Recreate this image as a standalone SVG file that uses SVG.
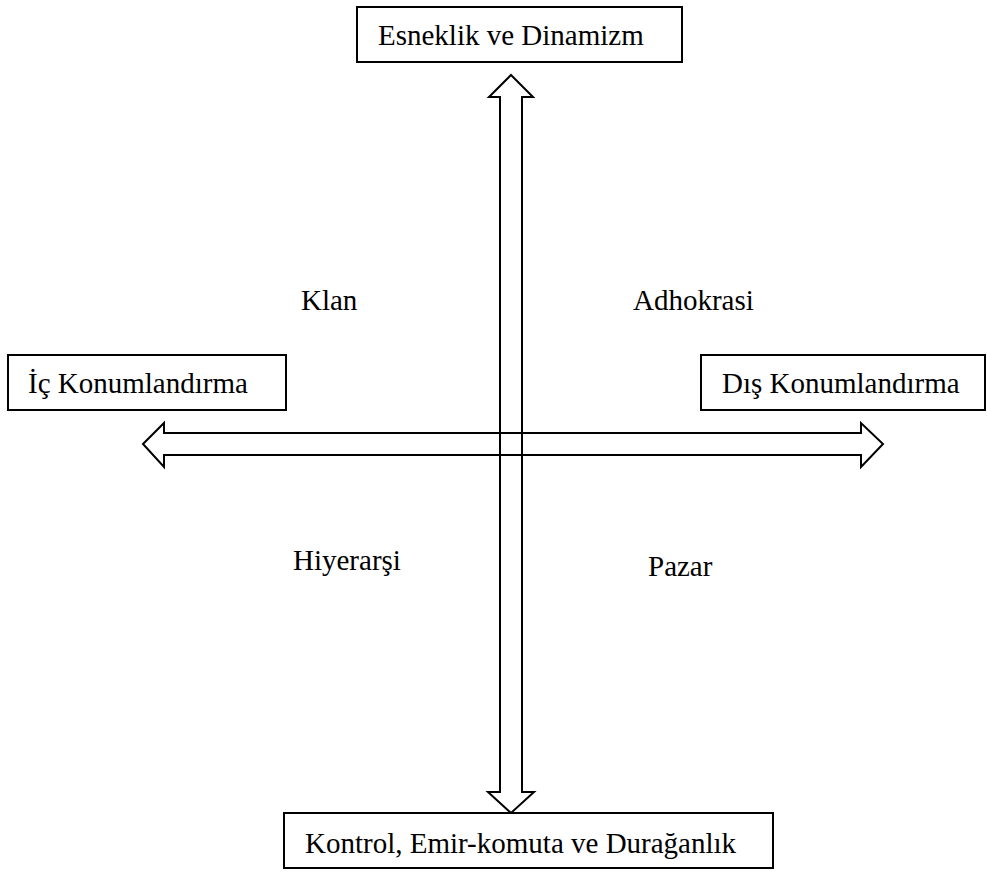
<svg xmlns="http://www.w3.org/2000/svg" width="987" height="872" viewBox="0 0 987 872">
  <style>
    .box { fill: #ffffff; stroke: #000000; stroke-width: 2; }
    .lbl { font-family: "Liberation Serif", "Times New Roman", serif; font-size: 29px; fill: #000000; }
    .arrow { fill: none; stroke: #000000; stroke-width: 2; stroke-linejoin: miter; }
  </style>
  <rect width="987" height="872" fill="#ffffff"/>

  <!-- double-headed axis arrows -->
  <g id="connectors">
    <path class="arrow" d="M511,75 L533,97 L522,97 L522,792 L534,792 L511,813 L488,792 L500,792 L500,97 L489,97 Z"/>
    <path class="arrow" d="M143,444 L164,423 L164,433 L861,433 L861,423 L883,444 L861,467 L861,455 L164,455 L164,467 Z"/>
  </g>

  <g id="node-top">
    <rect class="box" x="357" y="7" width="325" height="55"/>
    <text class="lbl" x="378" y="45">Esneklik ve Dinamizm</text>
  </g>
  <g id="node-left">
    <rect class="box" x="8" y="355" width="278" height="55"/>
    <text class="lbl" x="28" y="393">İç Konumlandırma</text>
  </g>
  <g id="node-right">
    <rect class="box" x="701" y="355" width="284" height="55"/>
    <text class="lbl" x="722" y="393">Dış Konumlandırma</text>
  </g>
  <g id="node-bottom">
    <rect class="box" x="284" y="813" width="489" height="55"/>
    <text class="lbl" x="305" y="853">Kontrol, Emir-komuta ve Durağanlık</text>
  </g>

  <g id="quadrant-labels">
    <text class="lbl" x="301" y="310">Klan</text>
    <text class="lbl" x="633" y="310">Adhokrasi</text>
    <text class="lbl" x="293" y="570">Hiyerarşi</text>
    <text class="lbl" x="648" y="576">Pazar</text>
  </g>
</svg>
